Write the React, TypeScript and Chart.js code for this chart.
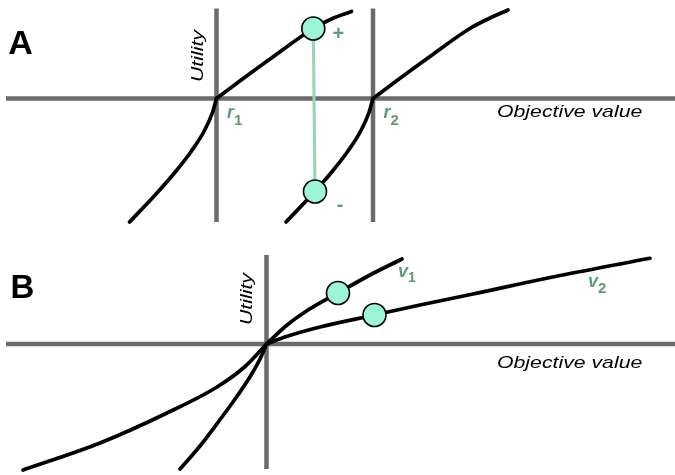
import React, { useEffect, useRef } from "react";
import { Chart, registerables } from "chart.js";

Chart.register(...registerables);

const FONT = '"Liberation Sans", Arial, Helvetica, sans-serif';
const BLACK = "#000000";
const GRAY = "#6b6b6b";
const GREEN_TEXT = "#5f9b74";
const GREEN_LINE = "#92d9b2";
const MARKER_FILL = "#9bf5d6";

// ---------- Panel A (objective value relative to r1, utility) ----------
// each utility curve is kinked at its reference point: loss branch + gain branch
const r1LossX = [-8.7, -6.0, -4.0, -2.5, -1.2, -0.4, 0];
const r1LossY = [-12.35, -9.5, -7.2, -5.25, -3.2, -1.4, 0];
const r1GainX = [0, 2.4, 5.7, 9.68, 11.6, 13.5];
const r1GainY = [0, 1.8, 4.2, 7.0, 8.0, 8.7];
const r2LossX = [6.95, 9.65, 11.65, 13.15, 14.45, 15.25, 15.65];
const r2LossY = [-12.35, -9.5, -7.2, -5.25, -3.2, -1.4, 0];
const r2GainX = [15.65, 18.05, 21.35, 25.33, 27.25, 29.15];
const r2GainY = [0, 1.8, 4.2, 7.0, 8.0, 8.85];
const referencePointsA = [0, 15.65]; // r1, r2
const referenceSubsA = ["1", "2"];
const markerAX = [9.68, 9.85];
const markerAY = [7.0, -9.3];
const markerASigns = ["+", "-"];
const axisAX = [-21.05, 45.85];
const axisAY = [9.0, -12.35];

// ---------- Panel B ----------
const v1LossX = [-8.65, -6.65, -4.6, -3.0, -1.6, -0.6, 0];
const v1LossY = [-12.5, -10.2, -7.5, -5.3, -3.2, -1.4, 0];
const v1GainX = [0, 2.0, 4.0, 7.15, 10.35, 13.55];
const v1GainY = [0, 1.85, 3.3, 5.1, 6.9, 8.5];
const v2LossX = [-24.35, -16.65, -9.95, -4.95, -2.2, 0];
const v2LossY = [-12.6, -9.9, -6.9, -4.3, -2.3, 0];
const v2GainX = [0, 2.0, 5.35, 10.8, 15.35, 20.65, 29.35, 38.35];
const v2GainY = [0, 0.75, 1.7, 2.9, 3.9, 5.0, 6.85, 8.57];
const markerBX = [7.15, 10.8];
const markerBY = [5.1, 2.9];
const axisBX = [-26.05, 40.85];
const axisBY = [8.9, -12.5];

const AXIS_LABEL_X = "Objective value";
const AXIS_LABEL_Y = "Utility";

type Label = {
  text: string;
  x: number;
  y: number;
  font: string;
  color: string;
  align?: CanvasTextAlign;
  baseline?: CanvasTextBaseline;
  rotate?: number;
  stretch?: number;
  sub?: string;
  subFont?: string;
  subDy?: number;
};

function curve(xs: number[], ys: number[], color: string, width: number) {
  return {
    data: xs.map((x, i) => ({ x, y: ys[i] })),
    showLine: true,
    borderColor: color,
    borderWidth: width,
    pointRadius: 0,
    fill: false,
    cubicInterpolationMode: "monotone" as const,
    clip: false as const,
    borderCapStyle: "round" as const,
    borderJoinStyle: "round" as const,
  };
}

function straight(xs: number[], ys: number[], color: string, width: number) {
  return {
    data: xs.map((x, i) => ({ x, y: ys[i] })),
    showLine: true,
    borderColor: color,
    borderWidth: width,
    pointRadius: 0,
    fill: false,
    tension: 0,
    clip: false as const,
    borderCapStyle: "butt" as const,
  };
}

function markers(xs: number[], ys: number[]) {
  return {
    data: xs.map((x, i) => ({ x, y: ys[i] })),
    showLine: false,
    pointRadius: 11.5,
    pointBackgroundColor: MARKER_FILL,
    pointBorderColor: BLACK,
    pointBorderWidth: 1.6,
    clip: false as const,
  };
}

function labelPlugin(items: Label[]) {
  return {
    id: "diagramLabels",
    afterDatasetsDraw(chart: any) {
      const ctx = chart.ctx as CanvasRenderingContext2D;
      items.forEach((it) => {
        const px = chart.scales.x.getPixelForValue(it.x);
        const py = chart.scales.y.getPixelForValue(it.y);
        ctx.save();
        ctx.translate(px, py);
        if (it.rotate) ctx.rotate(it.rotate);
        ctx.scale(it.stretch ?? 1, 1);
        ctx.font = it.font;
        ctx.fillStyle = it.color;
        ctx.textAlign = it.align ?? "left";
        ctx.textBaseline = it.baseline ?? "alphabetic";
        ctx.fillText(it.text, 0, 0);
        if (it.sub) {
          const w = ctx.measureText(it.text).width;
          ctx.font = it.subFont ?? it.font;
          ctx.fillText(it.sub, w, it.subDy ?? 0);
        }
        ctx.restore();
      });
    },
  };
}

function baseOptions(xMin: number, xMax: number, yMin: number, yMax: number) {
  return {
    animation: false as const,
    responsive: false,
    maintainAspectRatio: false,
    layout: { padding: 0, autoPadding: false },
    plugins: { legend: { display: false }, tooltip: { enabled: false }, title: { display: false } },
    events: [] as any[],
    scales: {
      x: { type: "linear" as const, min: xMin, max: xMax, display: false },
      y: { type: "linear" as const, min: yMin, max: yMax, display: false },
    },
  };
}

const italic = `italic 17px ${FONT}`;
const CURVE_W = 3.7;
const AXIS_W = 4.5;

export default function App() {
  const refA = useRef<HTMLCanvasElement | null>(null);
  const refB = useRef<HTMLCanvasElement | null>(null);

  useEffect(() => {
    if (!refA.current || !refB.current) return;

    const labelsA: Label[] = [
      { text: "A", x: -19.6, y: 5.4, font: `bold 34px ${FONT}`, color: BLACK, align: "center", baseline: "middle" },
      { text: AXIS_LABEL_Y, x: -1.85, y: 4.25, font: italic, color: BLACK, align: "center", baseline: "middle", rotate: -Math.PI / 2, stretch: 1.25 },
      { text: AXIS_LABEL_X, x: 28.05, y: -1.85, font: italic, color: BLACK, stretch: 1.25 },
      ...referencePointsA.map((r, i) => ({
        text: "r",
        x: r + 1.05,
        y: -1.95,
        font: `italic bold 18px ${FONT}`,
        color: GREEN_TEXT,
        sub: referenceSubsA[i],
        subFont: `bold 15px ${FONT}`,
        subDy: 7,
      })),
      ...markerASigns.map((s, i) => ({
        text: s,
        x: markerAX[i] + 2.5,
        y: markerAY[i] + (i === 0 ? -0.55 : -1.35),
        font: `bold 20px ${FONT}`,
        color: GREEN_TEXT,
        align: "center" as CanvasTextAlign,
        baseline: "middle" as CanvasTextBaseline,
      })),
    ];

    const chartA = new Chart(refA.current, {
      type: "scatter",
      data: {
        datasets: [
          markers(markerAX, markerAY),
          curve(r1LossX, r1LossY, BLACK, CURVE_W),
          curve(r1GainX, r1GainY, BLACK, CURVE_W),
          curve(r2LossX, r2LossY, BLACK, CURVE_W),
          curve(r2GainX, r2GainY, BLACK, CURVE_W),
          straight(markerAX, markerAY, GREEN_LINE, 3),
          straight(axisAX, [0, 0], GRAY, AXIS_W),
          straight([referencePointsA[0], referencePointsA[0]], axisAY, GRAY, AXIS_W),
          straight([referencePointsA[1], referencePointsA[1]], axisAY, GRAY, AXIS_W),
        ] as any,
      },
      options: baseOptions(-21.65, 45.85, -14.15, 9.85) as any,
      plugins: [labelPlugin(labelsA)],
    });

    const labelsB: Label[] = [
      { text: "B", x: -24.4, y: 5.55, font: `bold 33px ${FONT}`, color: BLACK, align: "center", baseline: "middle" },
      { text: AXIS_LABEL_Y, x: -1.9, y: 4.5, font: italic, color: BLACK, align: "center", baseline: "middle", rotate: -Math.PI / 2, stretch: 1.25 },
      { text: AXIS_LABEL_X, x: 23.05, y: -2.4, font: italic, color: BLACK, stretch: 1.25 },
      { text: "v", x: 13.15, y: 6.7, font: `italic bold 18px ${FONT}`, color: GREEN_TEXT, sub: "1", subFont: `bold 14px ${FONT}`, subDy: 5 },
      { text: "v", x: 32.15, y: 5.7, font: `italic bold 18px ${FONT}`, color: GREEN_TEXT, sub: "2", subFont: `bold 15px ${FONT}`, subDy: 6 },
    ];

    const chartB = new Chart(refB.current, {
      type: "scatter",
      data: {
        datasets: [
          markers(markerBX, markerBY),
          curve(v1LossX, v1LossY, BLACK, CURVE_W),
          curve(v1GainX, v1GainY, BLACK, CURVE_W),
          curve(v2LossX, v2LossY, BLACK, CURVE_W),
          curve(v2GainX, v2GainY, BLACK, CURVE_W),
          straight(axisBX, [0, 0], GRAY, AXIS_W),
          straight([0, 0], axisBY, GRAY, AXIS_W),
        ] as any,
      },
      options: baseOptions(-26.65, 40.85, -13.1, 10.4) as any,
      plugins: [labelPlugin(labelsB)],
    });

    return () => {
      chartA.destroy();
      chartB.destroy();
    };
  }, []);

  return (
    <div style={{ position: "fixed", left: 0, top: 0, width: 675, height: 475, background: "#ffffff", overflow: "hidden" }}>
      <canvas ref={refA} width={675} height={240} style={{ position: "absolute", left: 0, top: 0, width: 675, height: 240 }} />
      <canvas ref={refB} width={675} height={235} style={{ position: "absolute", left: 0, top: 240, width: 675, height: 235 }} />
    </div>
  );
}
